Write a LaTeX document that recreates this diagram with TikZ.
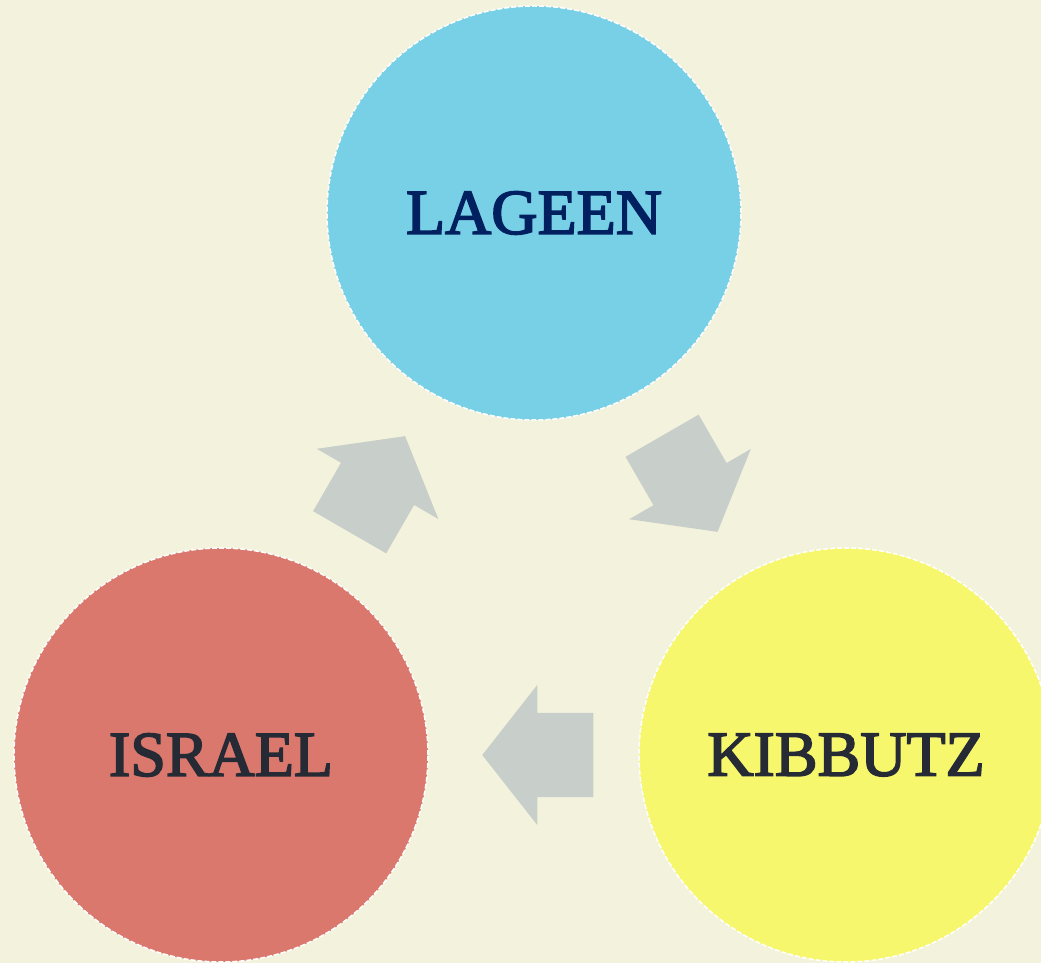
\documentclass[tikz,border=0pt]{standalone}
\usepackage{fontspec}
\newfontfamily\labelFont{Liberation Serif}[FakeBold=2.6]
\usetikzlibrary{shapes.arrows, calc}

\definecolor{bgCream}{HTML}{F3F2DC}
\definecolor{arrowGray}{HTML}{C8CEC9}
\definecolor{lageenBlue}{HTML}{78D0E6}
\definecolor{israelRed}{HTML}{DB786E}
\definecolor{kibbutzYellow}{HTML}{F7F76E}
\definecolor{navyText}{HTML}{002060}
\definecolor{darkText}{HTML}{262A35}

\begin{document}
\begin{tikzpicture}[x = 1pt, y = 1pt, font = \labelFont\fontsize{64}{70}\selectfont]
	\tikzstyle{circleStyle}=[shape = circle, minimum size = 414pt, inner sep = 0pt, draw = white, line width = 1.5pt, dash pattern = on 5pt off 2pt]
	\tikzstyle{arrowStyle}=[shape = single arrow, fill = arrowGray, minimum height = 111pt, minimum width = 140pt, single arrow head extend = 28pt, single arrow tip angle = 103.7, inner xsep = 0pt, inner ysep = 42pt, anchor = tip]
	\useasboundingbox (0,0) rectangle (1041,963);
	\fill[bgCream] (0,0) rectangle (1041,963);
	\node[circleStyle, fill = lageenBlue, text = navyText] (lageen) at (534,750) {LAGEEN};
	\node[circleStyle, fill = israelRed, text = darkText] (israel) at (221,208) {ISRAEL};
	\node[circleStyle, fill = kibbutzYellow, text = darkText] (kibbutz) at (846,208) {KIBBUTZ};

	\node[arrowStyle, rotate = 60] (arrowIL) at ($(israel)!0.5!(lageen)!55.5pt!(lageen)$) {};
	\node[arrowStyle, rotate = -60] (arrowLK) at ($(lageen)!0.5!(kibbutz)!55.5pt!(kibbutz)$) {};
	\node[arrowStyle, rotate = 180] (arrowKI) at ($(kibbutz)!0.5!(israel)!51.5pt!(israel)$) {};
\end{tikzpicture}
\end{document}
